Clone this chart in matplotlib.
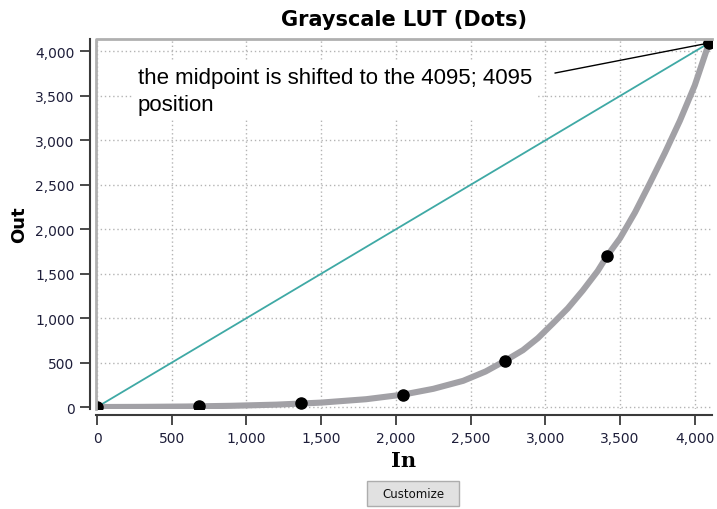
import matplotlib
matplotlib.use("Agg")
import matplotlib.pyplot as plt
from matplotlib.lines import Line2D
from matplotlib.patches import Rectangle
from matplotlib.ticker import MultipleLocator, StrMethodFormatter

# LUT control dots (input level -> output level)
dot_in = [0, 683, 1365, 2048, 2730, 3413, 4095]
dot_out = [0, 10, 42, 140, 520, 1700, 4095]

# sampled grayscale curve through the dots
curve_in = [0, 300, 600, 900, 1200, 1500, 1800, 2048, 2250, 2450, 2600,
            2730, 2850, 2950, 3050, 3150, 3250, 3350, 3413, 3500, 3600,
            3700, 3800, 3900, 4000, 4095]
curve_out = [0, 2, 6, 14, 27, 50, 88, 140, 205, 295, 400,
             520, 640, 775, 940, 1110, 1310, 1530, 1700, 1900, 2190,
             2520, 2860, 3220, 3620, 4095]

# identity reference line
ident_in = [0, 4095]
ident_out = [0, 4095]

W, H = 717, 510
fig = plt.figure(figsize=(W / 100, H / 100), dpi=100)
fig.patch.set_facecolor("white")

ax = fig.add_axes([96 / W, 1 - 410 / H, 616 / W, 370 / H])
ax.set_xlim(-7, 4115)
ax.set_ylim(-22, 4140)

ax.plot(ident_in, ident_out, color="#3fa9a5", lw=1.3, zorder=3)
ax.plot(curve_in, curve_out, color="#a2a1a6", lw=4.4,
        solid_capstyle="butt", solid_joinstyle="round", zorder=4)
ax.plot(dot_in, dot_out, "o", color="black", ms=8, zorder=5)

ax.xaxis.set_major_locator(MultipleLocator(500))
ax.yaxis.set_major_locator(MultipleLocator(500))
ax.xaxis.set_major_formatter(StrMethodFormatter("{x:,.0f}"))
ax.yaxis.set_major_formatter(StrMethodFormatter("{x:,.0f}"))
ax.grid(True, linestyle=(0, (1, 2)), color="#b4b4b4", lw=1.0)
ax.set_axisbelow(True)

for s in ["top", "right"]:
    ax.spines[s].set_visible(False)
for s in ["left", "bottom"]:
    ax.spines[s].set_position(("outward", 4))
    ax.spines[s].set_color("#3a3a3a")
    ax.spines[s].set_linewidth(1.5)

ax.tick_params(length=7.5, width=1.3, color="#3a3a3a", labelsize=10,
               labelcolor="#1e1e3a", pad=4)

# sunken frame on the top and left edges of the plot area
ax.add_line(Line2D([0, 0, 1], [0, 1, 1], transform=ax.transAxes,
                   color="#b0b0b0", lw=2.0, clip_on=False, zorder=6))

ax.set_title("Grayscale LUT (Dots)", fontsize=15, fontweight="bold",
             family="DejaVu Sans", pad=10)
ax.set_xlabel("In", fontsize=15, fontweight="bold", family="DejaVu Serif",
              labelpad=4)
ax.set_ylabel("Out", fontsize=13, fontweight="bold", labelpad=5)

ax.text(274, 3830, "the midpoint is shifted to the 4095; 4095\nposition",
        fontsize=16, family="Liberation Sans", va="top", ha="left",
        linespacing=1.38, zorder=7,
        bbox=dict(facecolor="white", edgecolor="none", pad=3))
ax.annotate("", xy=(4095, 4095), xytext=(3064, 3757),
            arrowprops=dict(arrowstyle="-|>", color="black", lw=1.0,
                            mutation_scale=6, shrinkA=0, shrinkB=0),
            zorder=8)

# Customize button under the chart
fig.patches.append(Rectangle((367 / W, 1 - 507 / H), 92 / W, 25 / H,
                             transform=fig.transFigure, facecolor="#e1e1e1",
                             edgecolor="#adadad", lw=1))
fig.text(413 / W, 1 - 494.5 / H, "Customize", ha="center", va="center",
         fontsize=8.5, color="#111111")

fig.savefig("out.png", dpi=100)
